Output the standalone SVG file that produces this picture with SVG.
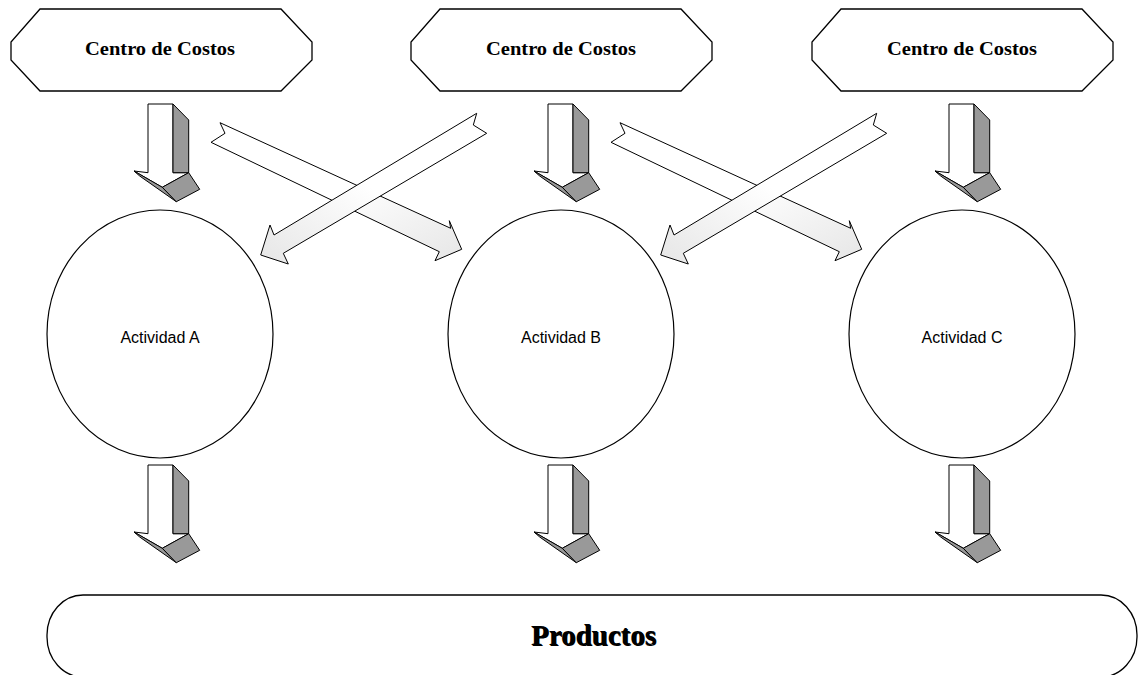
<svg xmlns="http://www.w3.org/2000/svg" xmlns:xlink="http://www.w3.org/1999/xlink" width="1144" height="675" viewBox="0 0 1144 675">
<defs>
<style>
.oct{fill:#fff;stroke:#000;stroke-width:1.3}
.ctxt{font-family:"Liberation Serif",serif;font-weight:bold;font-size:18px;fill:#000;text-anchor:middle}
.ell{fill:#fff;stroke:#000;stroke-width:1.2}
.atxt{font-family:"Liberation Sans",sans-serif;font-size:16px;fill:#000;text-anchor:middle}
.w{fill:#fff;stroke:#000;stroke-width:1;stroke-linejoin:miter}
.g{fill:#999;stroke:#000;stroke-width:1}
.d1{fill:url(#gr1);stroke:#000;stroke-width:1}
.d2{fill:url(#gr2);stroke:#000;stroke-width:1}
.prod{fill:#fff;stroke:#000;stroke-width:1.3}
.ptxt{font-family:"Liberation Serif",serif;font-weight:bold;font-size:29px;fill:#000;text-anchor:middle}
</style>
<linearGradient id="gr1" x1="0" y1="0" x2="1" y2="1">
<stop offset="0" stop-color="#fff"/><stop offset="0.5" stop-color="#fff"/><stop offset="1" stop-color="#e6e6e6"/>
</linearGradient>
<linearGradient id="gr2" x1="1" y1="0" x2="0" y2="1">
<stop offset="0" stop-color="#fff"/><stop offset="0.5" stop-color="#fff"/><stop offset="1" stop-color="#e6e6e6"/>
</linearGradient>
<g id="dn">
<polygon class="w" points="0,0 25,0 25,68.7 40.7,68.7 14.3,83.3 -14,67 0,68.7"/>
<polygon class="g" points="25,0 40.7,16 40.7,68.7 25,68.7"/>
<polygon class="g" points="-14,67 14.3,83.3 28.3,97.7 -8.3,72"/>
<polygon class="g" points="14.3,83.3 40.7,68.7 51.7,85.3 28.3,97.7"/>
</g>
<polygon id="octs" class="oct" points="40,9 281,9 312,42 312,60 281,91 40,91 11,60 11,42"/>
<polygon id="dA" class="d1" points="220,122.7 450.7,228.3 449.3,220.7 461.7,249.3 435,260.7 439.3,251.7 211,142.3 225,133.3"/>
<polygon id="dB" class="d2" points="476.7,113.3 274,235 270,225 260.7,255 288.3,264 283.3,253.3 486.7,133.3 473.3,125"/>
</defs>

<g id="centro1"><use xlink:href="#octs"/><text class="ctxt" x="160" y="55" textLength="150" lengthAdjust="spacingAndGlyphs">Centro de Costos</text></g>
<g id="centro2"><use xlink:href="#octs" transform="translate(400,0)"/><text class="ctxt" x="561" y="55" textLength="150" lengthAdjust="spacingAndGlyphs">Centro de Costos</text></g>
<g id="centro3"><use xlink:href="#octs" transform="translate(801,0)"/><text class="ctxt" x="962" y="55" textLength="150" lengthAdjust="spacingAndGlyphs">Centro de Costos</text></g>

<g id="actA"><ellipse class="ell" cx="160" cy="334" rx="113" ry="124"/><text class="atxt" x="160" y="343">Actividad A</text></g>
<g id="actB"><ellipse class="ell" cx="561" cy="334" rx="113" ry="124"/><text class="atxt" x="561" y="343">Actividad B</text></g>
<g id="actC"><ellipse class="ell" cx="962" cy="334" rx="113" ry="124"/><text class="atxt" x="962" y="343">Actividad C</text></g>

<g id="productos"><rect class="prod" x="47" y="595" width="1090" height="82" rx="36" ry="40"/>
<text class="ptxt" x="594.5" y="646">Productos</text><text class="ptxt" x="593.5" y="645">Productos</text></g>

<g id="connectors">
<use xlink:href="#dn" transform="translate(148,104)"/>
<use xlink:href="#dn" transform="translate(548,104)"/>
<use xlink:href="#dn" transform="translate(949,104)"/>
<use xlink:href="#dn" transform="translate(148,465)"/>
<use xlink:href="#dn" transform="translate(548,465)"/>
<use xlink:href="#dn" transform="translate(949,465)"/>
<use xlink:href="#dA"/>
<use xlink:href="#dB"/>
<use xlink:href="#dA" transform="translate(400,0)"/>
<use xlink:href="#dB" transform="translate(400,0)"/>
</g>
</svg>
